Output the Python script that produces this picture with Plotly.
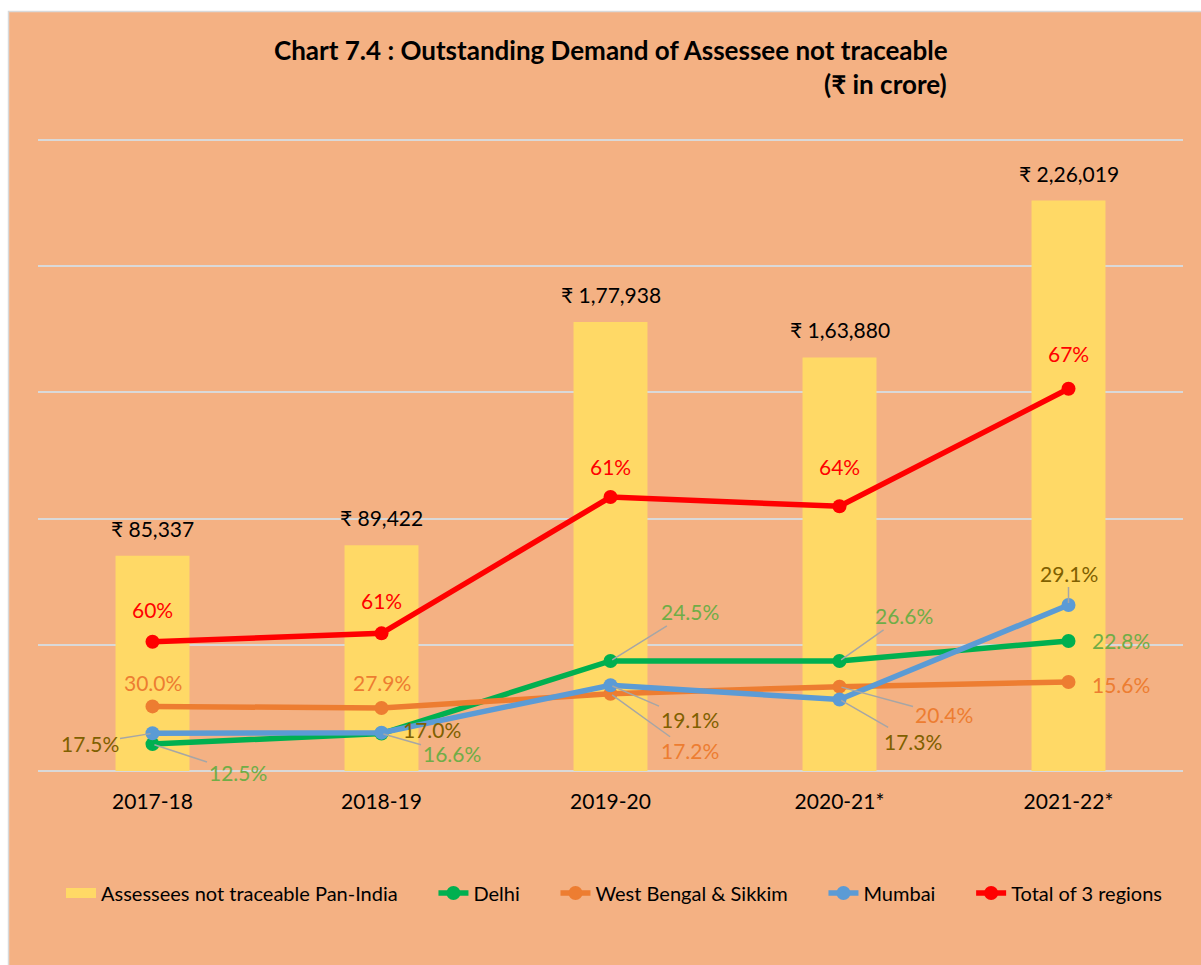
import plotly.graph_objects as go

years = ["2017-18", "2018-19", "2019-20", "2020-21*", "2021-22*"]
pan_india = [85337, 89422, 177938, 163880, 226019]
pan_india_labels = ["₹ 85,337", "₹ 89,422", "₹ 1,77,938", "₹ 1,63,880", "₹ 2,26,019"]
delhi_pct = [12.5, 16.6, 24.5, 26.6, 22.8]
wb_pct = [30.0, 27.9, 17.2, 20.4, 15.6]
mumbai_pct = [17.5, 17.0, 19.1, 17.3, 29.1]
total_pct = [60, 61, 61, 64, 67]

FONT = "Lato, Carlito, Calibri, sans-serif"
BG = "#F4B183"
GRID = "#D9D9D9"
PAD = "\u00a0" * 6
Y_MAX = 252000

def amounts(pcts):
    return [p / 100.0 * v for p, v in zip(pcts, pan_india)]

series = [
    ("Delhi", delhi_pct, "#00B050", "#70AD47", "{:.1f}%"),
    ("West Bengal & Sikkim", wb_pct, "#ED7D31", "#ED7D31", "{:.1f}%"),
    ("Mumbai", mumbai_pct, "#5B9BD5", "#7F6000", "{:.1f}%"),
    ("Total of 3 regions", total_pct, "#FF0000", "#FF0000", "{:.0f}%"),
]

# label offsets (pixels) from the point: (ax, ay, show_leader)
offsets = {
    "Delhi": [(85, 28, True), (70, 20, True), (79, -49, True), (64, -45, True), (52, 0, False)],
    "West Bengal & Sikkim": [(0, -24, False), (0, -26, False), (79, 57, True), (104, 28, True), (52, 2, False)],
    "Mumbai": [(-63, 10, True), (50, -3, False), (79, 34, True), (73, 42, True), (0, -32, True)],
    "Total of 3 regions": [(0, -32, False), (0, -33, False), (0, -31, False), (0, -40, False), (0, -35, False)],
}

W, H = 1201, 965
L, R, T, B = 38, 18, 135, 194
PW, PH = W - L - R, H - T - B

def px_x(px):
    return (px - L) / PW

def px_y(py):
    return (H - B - py) / PH

fig = go.Figure()
fig.add_trace(go.Bar(
    x=years, y=pan_india, name="Assessees not traceable Pan-India",
    marker=dict(color="#FFD966", line=dict(width=0)), showlegend=False,
))
# legend stand-in for the bar series (wide swatch like the original)
fig.add_trace(go.Scatter(
    x=[None], y=[None], mode="lines", name="Assessees not traceable Pan-India" + PAD,
    line=dict(color="#FFD966", width=13),
))

annotations = []
for k, (name, pcts, lc, tc, fmt) in enumerate(series):
    ys = amounts(pcts)
    fig.add_trace(go.Scatter(
        x=years, y=ys, name=name + (PAD if k < len(series) - 1 else ""),
        mode="lines+markers",
        line=dict(color=lc, width=5.5),
        marker=dict(color=lc, size=14),
        cliponaxis=False,
    ))
    for i, (yr, yv, p) in enumerate(zip(years, ys, pcts)):
        ax, ay, lead = offsets[name][i]
        annotations.append(dict(
            x=yr, y=yv, xref="x", yref="y", text=fmt.format(p),
            showarrow=True, ax=ax, ay=ay, arrowhead=0, arrowwidth=1.5,
            arrowcolor="#A6A6A6" if lead else "rgba(0,0,0,0)", standoff=2,
            font=dict(family=FONT, size=21, color=tc),
        ))

for yr, v, lab in zip(years, pan_india, pan_india_labels):
    annotations.append(dict(
        x=yr, y=v, xref="x", yref="y", text=lab, showarrow=False,
        yanchor="bottom", yshift=13,
        font=dict(family=FONT, size=21, color="#000000"),
    ))

annotations.append(dict(
    x=px_x(611), y=px_y(50), xref="paper", yref="paper",
    text="<b>Chart 7.4 : Outstanding Demand of Assessee not traceable</b>",
    xanchor="center", yanchor="middle",
    showarrow=False, font=dict(family=FONT, size=26, color="#000000"),
))
annotations.append(dict(
    x=px_x(949), y=px_y(84), xref="paper", yref="paper", text="<b>(₹ in crore)</b>",
    xanchor="right", yanchor="middle", showarrow=False,
    font=dict(family=FONT, size=26, color="#000000"),
))

fig.update_layout(
    width=W, height=H,
    margin=dict(l=L, r=R, t=T, b=B, pad=0),
    paper_bgcolor="white", plot_bgcolor="rgba(0,0,0,0)",
    bargap=0.677,
    showlegend=True,
    legend=dict(orientation="h", x=px_x(614), xanchor="center", y=px_y(893), yanchor="middle",
                font=dict(family=FONT, size=20, color="#000000"), bgcolor="rgba(0,0,0,0)",
                tracegroupgap=0),
    annotations=annotations,
    shapes=[dict(type="rect", xref="paper", yref="paper", layer="below",
                 x0=px_x(8.5), x1=px_x(1210), y0=px_y(975), y1=px_y(11.5),
                 fillcolor=BG, line=dict(color="#D9D9D9", width=1.5))],
    font=dict(family=FONT),
)
fig.update_xaxes(showgrid=False, showline=False, zeroline=False, ticks="",
                 tickfont=dict(family=FONT, size=21, color="#000000"), ticklabelstandoff=16)
fig.update_yaxes(range=[0, Y_MAX], tick0=0, dtick=50000, showticklabels=False, showgrid=True,
                 gridcolor=GRID, gridwidth=1.5, zeroline=True, zerolinecolor=GRID,
                 zerolinewidth=1.5, showline=False, ticks="")

fig.write_html("out.html", config={"displayModeBar": False})
with open("out.html", "r", encoding="utf-8") as f:
    html = f.read()
html = html.replace("<body>", "<body style=\"margin:0;padding:0;overflow:hidden\">", 1)
with open("out.html", "w", encoding="utf-8") as f:
    f.write(html)
